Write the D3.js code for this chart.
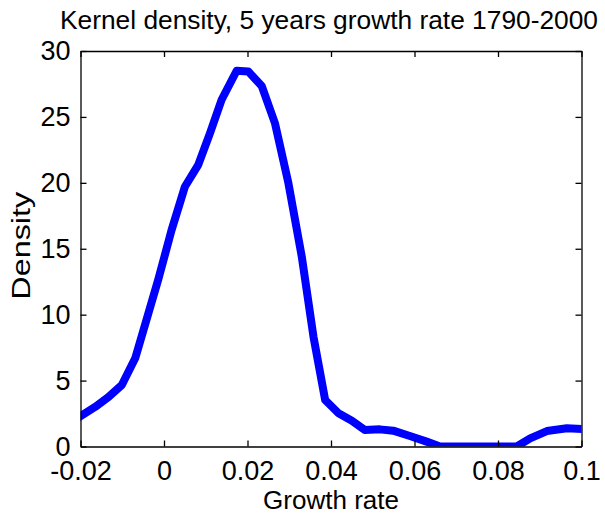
<!DOCTYPE html>
<html>
<head>
<meta charset="utf-8">
<script src="https://cdn.jsdelivr.net/npm/d3@7"></script>
<style>
  html, body { margin: 0; padding: 0; background: #fff; }
  svg { display: block; }
  text { font-family: "Liberation Sans", Arial, Helvetica, sans-serif; fill: #000; }
</style>
</head>
<body>
<svg id="chart" width="605" height="517"></svg>
<script>
// Kernel density estimate of 5-year growth rates, 1790-2000
const growthRate = [-0.02, -0.0165, -0.0133, -0.0101, -0.0069, -0.0042, -0.0014, 0.0018,
  0.0050, 0.0082, 0.0110, 0.0138, 0.0174, 0.0202, 0.0234, 0.0266, 0.0298, 0.0330,
  0.0358, 0.0386, 0.0418, 0.0450, 0.0481, 0.0517, 0.0549, 0.0589, 0.0629, 0.0661,
  0.0845, 0.0877, 0.0917, 0.0965, 0.1];
const density = [2.3, 3.0, 3.75, 4.67, 6.69, 9.6, 12.63, 16.4,
  19.7, 21.36, 23.76, 26.3, 28.5, 28.44, 27.35, 24.5, 19.97, 14.4,
  8.33, 3.53, 2.52, 1.96, 1.25, 1.3, 1.2, 0.8, 0.37, 0.0,
  0.0, 0.62, 1.17, 1.38, 1.33];

const xTicks = [-0.02, 0, 0.02, 0.04, 0.06, 0.08, 0.1];
const xTickLabels = ["-0.02", "0", "0.02", "0.04", "0.06", "0.08", "0.1"];
const yTicks = [0, 5, 10, 15, 20, 25, 30];

const titleText = "Kernel density, 5 years growth rate 1790-2000";
const xLabel = "Growth rate";
const yLabel = "Density";

const svg = d3.select("#chart");
const box = { left: 80.5, right: 581.5, top: 51, bottom: 446.5 };

const x = d3.scaleLinear().domain([-0.02, 0.1]).range([box.left, box.right]);
const y = d3.scaleLinear().domain([0, 30]).range([box.bottom, box.top]);

svg.append("defs").append("clipPath").attr("id", "plotClip")
  .append("rect")
  .attr("x", box.left).attr("y", box.top)
  .attr("width", box.right - box.left).attr("height", box.bottom - box.top);

// density curve, clipped to the axes box
const pts = growthRate.map((g, i) => [g, density[i]]);
const line = d3.line().x(d => x(d[0])).y(d => y(d[1]));
svg.append("path")
  .datum(pts)
  .attr("clip-path", "url(#plotClip)")
  .attr("d", line)
  .attr("fill", "none")
  .attr("stroke", "#0000ff")
  .attr("stroke-width", 8)
  .attr("stroke-linejoin", "round")
  .attr("stroke-linecap", "square");

// axes with inward ticks on all four sides
const tickLen = 6;
const fmtX = (d, i) => xTickLabels[i];

const bottomAxis = svg.append("g").attr("transform", `translate(0,${box.bottom})`)
  .call(d3.axisBottom(x).tickValues(xTicks).tickFormat(fmtX).tickSizeInner(-tickLen).tickSizeOuter(0).tickPadding(14));
const topAxis = svg.append("g").attr("transform", `translate(0,${box.top})`)
  .call(d3.axisTop(x).tickValues(xTicks).tickFormat("").tickSizeInner(-tickLen).tickSizeOuter(0));
const leftAxis = svg.append("g").attr("transform", `translate(${box.left},0)`)
  .call(d3.axisLeft(y).tickValues(yTicks).tickFormat(d3.format("d")).tickSizeInner(-tickLen).tickSizeOuter(0).tickPadding(10));
const rightAxis = svg.append("g").attr("transform", `translate(${box.right},0)`)
  .call(d3.axisRight(y).tickValues(yTicks).tickFormat("").tickSizeInner(-tickLen).tickSizeOuter(0));

[bottomAxis, topAxis, leftAxis, rightAxis].forEach(g => {
  g.select(".domain").attr("stroke", "#000").attr("stroke-width", 1.3);
  g.selectAll(".tick line").attr("stroke", "#000").attr("stroke-width", 1.3);
  g.selectAll(".tick text")
    .attr("font-size", 27)
    .attr("font-family", '"Liberation Sans", Arial, Helvetica, sans-serif')
    .attr("fill", "#000");
});
bottomAxis.selectAll(".tick text").attr("dy", "0.71em");
leftAxis.selectAll(".tick text").attr("dy", "0.33em");

// title and axis labels
svg.append("text")
  .attr("x", (box.left + box.right) / 2 - 2).attr("y", 29)
  .attr("text-anchor", "middle").attr("font-size", 26)
  .attr("textLength", 538).attr("lengthAdjust", "spacingAndGlyphs")
  .text(titleText);

svg.append("text")
  .attr("x", (box.left + box.right) / 2).attr("y", 509)
  .attr("text-anchor", "middle").attr("font-size", 26.5)
  .attr("textLength", 136).attr("lengthAdjust", "spacingAndGlyphs")
  .text(xLabel);

svg.append("text")
  .attr("transform", `translate(30,${(box.top + box.bottom) / 2 - 3}) rotate(-90)`)
  .attr("text-anchor", "middle").attr("font-size", 25)
  .attr("textLength", 108).attr("lengthAdjust", "spacingAndGlyphs")
  .text(yLabel);
</script>
</body>
</html>
